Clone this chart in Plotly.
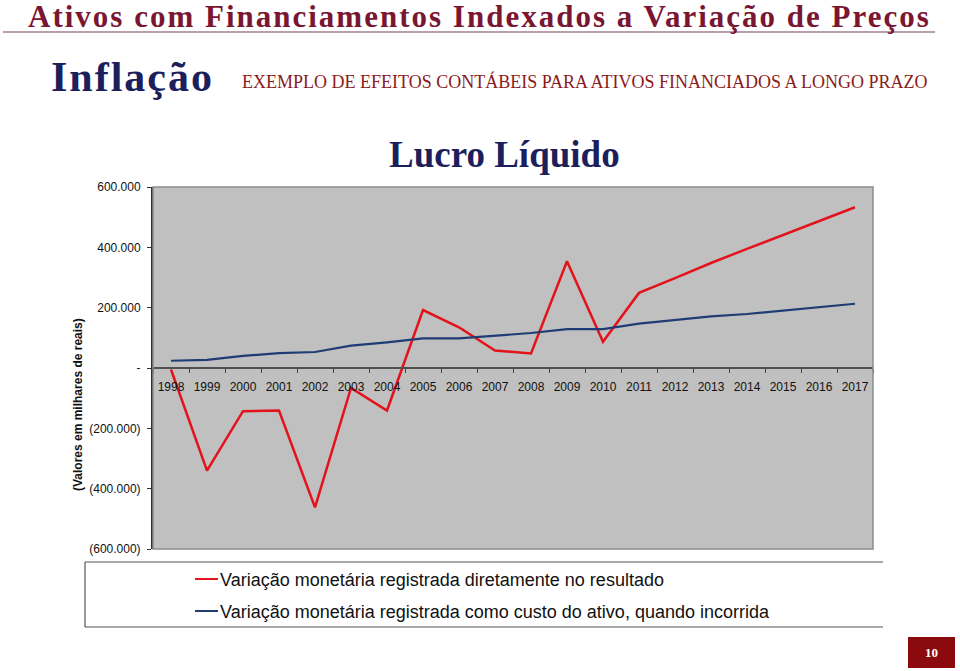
import plotly.graph_objects as go

# ---------------- data ----------------
years = [str(y) for y in range(1998, 2018)]
red_name = "Variação monetária registrada diretamente no resultado"
blue_name = "Variação monetária registrada como custo do ativo, quando incorrida"
red_values = [-5000, -340000, -143000, -141000, -462000, -66000, -141000, 192000,
              135000, 58000, 48000, 354000, 87000, 249000, 298000, 348000,
              395000, 441000, 487000, 533000]
blue_values = [24000, 27000, 40000, 49000, 53000, 74000, 85000, 98000, 98000,
               107000, 116000, 129000, 129000, 147000, 159000, 171000, 179000,
               190000, 200000, 213000]
y_tickvals = [600000, 400000, 200000, 0, -200000, -400000, -600000]
y_ticktext = ["600.000", "400.000", "200.000", "-", "(200.000)", "(400.000)", "(600.000)"]

W, H = 960, 671
def px(x):
    return x / W
def py(y):
    return 1 - y / H

RED = "#E3121B"
BLUE = "#1F3C74"
MAROON = "#7A1632"
NAVY = "#1C1F5C"

x0, x1 = px(153), px(873)
y_top, y_bot = py(187), py(549)
zero_pos = (y_top + y_bot) / 2

fig = go.Figure()
fig.add_trace(go.Scatter(x=years, y=red_values, mode="lines", name=red_name,
                         line=dict(color=RED, width=2.5), showlegend=False))
fig.add_trace(go.Scatter(x=years, y=blue_values, mode="lines", name=blue_name,
                         line=dict(color=BLUE, width=2.2), showlegend=False))

fig.update_layout(
    width=W, height=H, autosize=False,
    margin=dict(l=0, r=0, t=0, b=0, autoexpand=False),
    paper_bgcolor="white", plot_bgcolor="#C0C0C0",
    font=dict(family="Liberation Sans, Arial", size=12, color="#111111"),
    xaxis=dict(type="category", domain=[x0, x1], range=[-0.5, 19.5],
               anchor="free", position=zero_pos, showline=True,
               linecolor="#505050", linewidth=2, ticks="outside", ticklen=4,
               tickcolor="#404040", tickson="boundaries", showgrid=False,
               zeroline=False, ticklabelstandoff=8, tickangle=0,
               tickfont=dict(family="Liberation Sans, Arial", size=12, color="#111111")),
    yaxis=dict(domain=[y_bot, y_top], range=[-600000, 600000],
               tickvals=y_tickvals, ticktext=y_ticktext, showline=True,
               linecolor="#303030", linewidth=2, ticks="outside", ticklen=4,
               tickcolor="#303030", showgrid=False, zeroline=False,
               ticklabelstandoff=4,
               tickfont=dict(family="Liberation Sans, Arial", size=12, color="#111111")),
)

shapes = []
# plot frame (top/right/bottom)
shapes.append(dict(type="rect", xref="paper", yref="paper", x0=x0, x1=x1, y0=y_bot, y1=y_top,
                   line=dict(color="#8C8C8C", width=1.5), layer="above"))
# header rule
shapes.append(dict(type="line", xref="paper", yref="paper", x0=px(3), x1=px(935),
                   y0=py(32), y1=py(32), line=dict(color="#9C8090", width=1.5)))
# legend box: left, top, bottom lines
shapes.append(dict(type="line", xref="paper", yref="paper", x0=px(85), x1=px(883),
                   y0=py(562), y1=py(562), line=dict(color="#555555", width=1.2)))
shapes.append(dict(type="line", xref="paper", yref="paper", x0=px(85), x1=px(883),
                   y0=py(627), y1=py(627), line=dict(color="#555555", width=1.2)))
shapes.append(dict(type="line", xref="paper", yref="paper", x0=px(85), x1=px(85),
                   y0=py(562), y1=py(627), line=dict(color="#555555", width=1.2)))
# legend line symbols
shapes.append(dict(type="line", xref="paper", yref="paper", x0=px(195), x1=px(218),
                   y0=py(579), y1=py(579), line=dict(color=RED, width=2)))
shapes.append(dict(type="line", xref="paper", yref="paper", x0=px(195), x1=px(218),
                   y0=py(611), y1=py(611), line=dict(color=BLUE, width=2)))
# page number box
shapes.append(dict(type="rect", xref="paper", yref="paper", x0=px(908), x1=px(955),
                   y0=py(668), y1=py(637), fillcolor="#8A0A0E", line=dict(width=0)))

annotations = []
annotations.append(dict(text='<span style="letter-spacing:2px">Ativos com Financiamentos Indexados a Variação de Preços</span>',
                        xref="paper", yref="paper", x=px(479), y=py(16.5),
                        xanchor="center", yanchor="middle", showarrow=False,
                        font=dict(family="Liberation Serif, Times New Roman", size=31,
                                  color=MAROON, weight="bold")))
annotations.append(dict(text='<span style="letter-spacing:2px">Inflação</span>', xref="paper", yref="paper", x=px(49), y=py(77),
                        xanchor="left", yanchor="middle", showarrow=False,
                        font=dict(family="Liberation Serif, Times New Roman", size=42,
                                  color=NAVY, weight="bold")))
annotations.append(dict(text="EXEMPLO DE EFEITOS CONTÁBEIS PARA ATIVOS FINANCIADOS A LONGO PRAZO",
                        xref="paper", yref="paper", x=px(240), y=py(81),
                        xanchor="left", yanchor="middle", showarrow=False,
                        font=dict(family="Liberation Serif, Times New Roman", size=18,
                                  color="#8B1A1A")))
annotations.append(dict(text="Lucro Líquido", xref="paper", yref="paper", x=px(505), y=py(154),
                        xanchor="center", yanchor="middle", showarrow=False,
                        font=dict(family="Liberation Serif, Times New Roman", size=37,
                                  color=NAVY, weight="bold")))
annotations.append(dict(text="(Valores em milhares de reais)", xref="paper", yref="paper",
                        x=px(78), y=py(405), textangle=-90,
                        xanchor="center", yanchor="middle", showarrow=False,
                        font=dict(family="Liberation Sans, Arial", size=12,
                                  color="#111111", weight="bold")))
annotations.append(dict(text=red_name, xref="paper", yref="paper", x=px(218), y=py(580),
                        xanchor="left", yanchor="middle", showarrow=False,
                        font=dict(family="Liberation Sans, Arial", size=18, color="#111111")))
annotations.append(dict(text=blue_name, xref="paper", yref="paper", x=px(218), y=py(612),
                        xanchor="left", yanchor="middle", showarrow=False,
                        font=dict(family="Liberation Sans, Arial", size=18, color="#111111")))
annotations.append(dict(text="10", xref="paper", yref="paper", x=px(931.5), y=py(652.5),
                        xanchor="center", yanchor="middle", showarrow=False,
                        font=dict(family="Liberation Serif, Times New Roman", size=13,
                                  color="white", weight="bold")))

fig.update_layout(shapes=shapes, annotations=annotations)
fig.write_html("out.html", config={"displayModeBar": False})

# remove the default page margin so the figure sits at the window origin
with open("out.html", "r", encoding="utf-8") as f:
    html = f.read()
html = html.replace("<head>", "<head><style>html,body{margin:0;padding:0;overflow:hidden;}</style>", 1)
with open("out.html", "w", encoding="utf-8") as f:
    f.write(html)
